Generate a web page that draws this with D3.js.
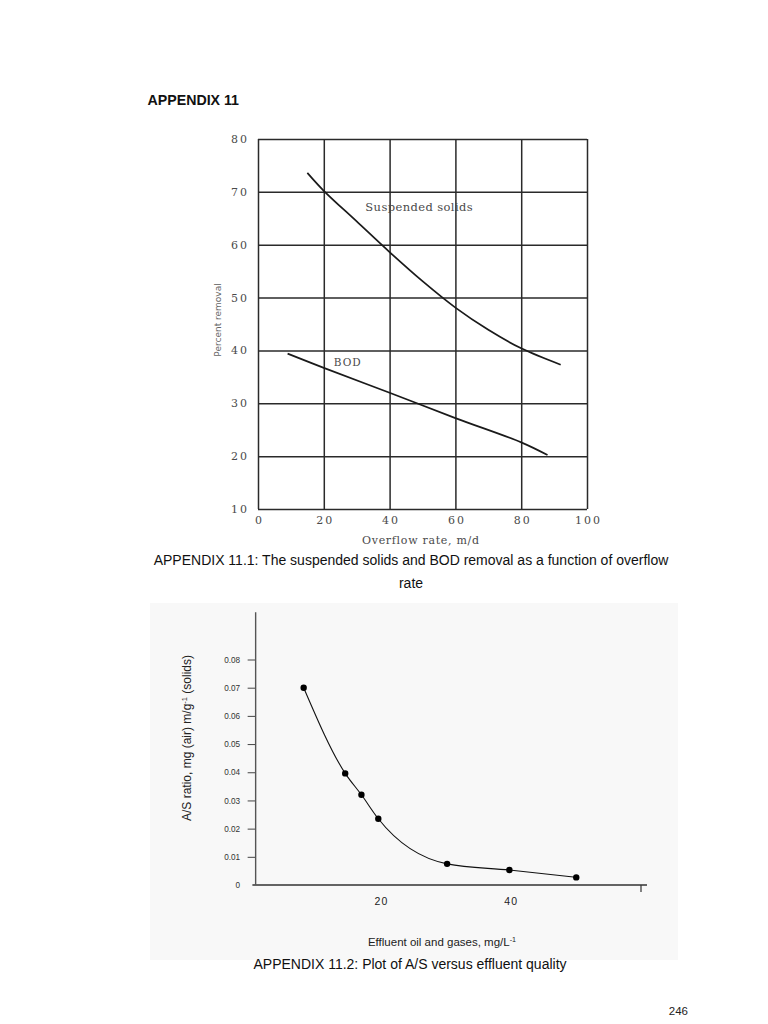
<!DOCTYPE html>
<html>
<head>
<meta charset="utf-8">
<script src="https://cdn.jsdelivr.net/npm/d3@7"></script>
<style>
  html, body { margin: 0; padding: 0; background: #fff; }
  svg { display: block; }
</style>
</head>
<body>
<svg id="page" width="768" height="1024"></svg>
<script>
// ---------- Data: Appendix 11.1 ----------
const overflowTicks = [0, 20, 40, 60, 80, 100];
const removalTicks = [10, 20, 30, 40, 50, 60, 70, 80];
const ssOverflow = [15, 20, 30, 40, 50, 60, 70, 80, 92];
const ssRemoval = [73.6, 70.2, 64.4, 58.6, 53.1, 48.1, 43.9, 40.4, 37.3];
const bodOverflow = [9, 20, 40, 60, 80, 88];
const bodRemoval = [39.4, 36.7, 32.0, 27.2, 22.6, 20.2];

// ---------- Data: Appendix 11.2 ----------
const effluentTicks = [20, 40, 60];
const asTicks = [0, 0.01, 0.02, 0.03, 0.04, 0.05, 0.06, 0.07, 0.08];
const effluentOil = [8.1, 14.5, 17.0, 19.6, 30.2, 39.8, 50.1];
const asRatio = [0.0700, 0.0396, 0.0320, 0.0235, 0.0075, 0.0053, 0.0027];
const effluentAxisExtent = [0.2, 61];   // x-axis line extent (data units)
const asAxisExtent = [0, 0.0968];       // y-axis line extent (data units)
const asAxisCrossAt = 0.7;              // y axis sits at this effluent value

const svg = d3.select("#page");

// ---------- Page text ----------
const sans = "'Liberation Sans', Arial, sans-serif";
svg.append("text").attr("x", 147.5).attr("y", 105)
  .attr("font-family", sans).attr("font-weight", "bold").attr("font-size", 14.2)
  .attr("fill", "#111").text("APPENDIX 11");

// ---------- Chart 1 ----------
const x1 = d3.scaleLinear().domain([0, 100]).range([258, 587]);
const y1 = d3.scaleLinear().domain([10, 80]).range([509, 139]);
const g1 = svg.append("g");
const serif = "'DejaVu Serif', 'Liberation Serif', serif";

const ay1 = g1.append("g").attr("transform", `translate(${x1(0)},0)`)
  .call(d3.axisLeft(y1).tickValues(removalTicks).tickSize(-(x1(100) - x1(0))).tickPadding(9).tickFormat(d3.format("d")));
const ax1 = g1.append("g").attr("transform", `translate(0,${y1(10)})`)
  .call(d3.axisBottom(x1).tickValues(overflowTicks).tickSize(-(y1(10) - y1(80))).tickPadding(7).tickFormat(d3.format("d")));
[ay1, ax1].forEach(a => {
  a.select(".domain").remove();
  a.selectAll(".tick line").attr("stroke", "#2a2a2a").attr("stroke-width", 1.5);
  a.selectAll(".tick text").attr("font-family", serif).attr("font-size", 11)
    .attr("letter-spacing", 2).attr("fill", "#4a4a4a");
});
ax1.selectAll(".tick text").attr("dx", 1);

const line1 = d3.line().x(d => x1(d[0])).y(d => y1(d[1])).curve(d3.curveCatmullRom.alpha(0.5));
g1.append("path").datum(d3.zip(ssOverflow, ssRemoval)).attr("d", line1)
  .attr("fill", "none").attr("stroke", "#1a1a1a").attr("stroke-width", 1.7);
g1.append("path").datum(d3.zip(bodOverflow, bodRemoval)).attr("d", line1)
  .attr("fill", "none").attr("stroke", "#1a1a1a").attr("stroke-width", 1.7);

g1.append("text").attr("x", x1(49)).attr("y", y1(66.3)).attr("text-anchor", "middle")
  .attr("font-family", serif).attr("font-size", 11.5).attr("letter-spacing", 0.4)
  .attr("fill", "#4a4a4a").text("Suspended solids");
g1.append("text").attr("x", x1(27.3)).attr("y", y1(37.1)).attr("text-anchor", "middle")
  .attr("font-family", serif).attr("font-size", 10.5).attr("letter-spacing", 1)
  .attr("fill", "#4a4a4a").text("BOD");
g1.append("text").attr("x", x1(49.5)).attr("y", 544).attr("text-anchor", "middle")
  .attr("font-family", serif).attr("font-size", 11).attr("letter-spacing", 0.7)
  .attr("fill", "#4a4a4a").text("Overflow rate, m/d");
g1.append("text").attr("transform", "translate(221,320) rotate(-90)").attr("text-anchor", "middle")
  .attr("font-family", "'DejaVu Sans', sans-serif").attr("font-size", 9).attr("fill", "#666")
  .text("Percent removal");

svg.append("text").attr("x", 411).attr("y", 564.7).attr("text-anchor", "middle")
  .attr("font-family", sans).attr("font-size", 14).attr("fill", "#111")
  .text("APPENDIX 11.1: The suspended solids and BOD removal as a function of overflow");
svg.append("text").attr("x", 411).attr("y", 588).attr("text-anchor", "middle")
  .attr("font-family", sans).attr("font-size", 14).attr("fill", "#111").text("rate");

// ---------- Chart 2 ----------
svg.append("rect").attr("x", 150).attr("y", 603).attr("width", 528).attr("height", 357)
  .attr("fill", "#f8f8f8");

const x2 = d3.scaleLinear().domain([0, 60]).range([251.1, 640.5]);
const y2 = d3.scaleLinear().domain([0, 0.08]).range([885, 659.5]);
const g2 = svg.append("g");

const ax2 = g2.append("g").attr("transform", `translate(0,${y2(0)})`)
  .call(d3.axisBottom(x2).tickValues(effluentTicks).tickSize(7).tickSizeOuter(0).tickPadding(6)
    .tickFormat(d => d === 60 ? "" : d));
ax2.select(".domain").remove();
ax2.selectAll(".tick line").attr("stroke", d => d === 60 ? "#333" : "none").attr("stroke-width", 1.2);
ax2.selectAll(".tick text").attr("font-family", sans).attr("font-size", 10.5)
  .attr("letter-spacing", 1).attr("fill", "#222");
g2.append("line").attr("x1", x2(effluentAxisExtent[0])).attr("x2", x2(effluentAxisExtent[1]))
  .attr("y1", y2(0)).attr("y2", y2(0)).attr("stroke", "#333").attr("stroke-width", 1.4);

const ay2 = g2.append("g").attr("transform", `translate(${x2(asAxisCrossAt)},0)`)
  .call(d3.axisLeft(y2).tickValues(asTicks).tickSize(8).tickSizeOuter(0).tickPadding(7.5)
    .tickFormat(d => d === 0 ? "0" : d3.format(".2f")(d)));
ay2.select(".domain").remove();
ay2.selectAll(".tick line").attr("stroke", d => d === 0 ? "none" : "#444").attr("stroke-width", 1);
ay2.selectAll(".tick text").attr("font-family", sans).attr("font-size", 8.2)
  .attr("fill", "#333");
g2.append("line").attr("x1", x2(asAxisCrossAt)).attr("x2", x2(asAxisCrossAt))
  .attr("y1", y2(asAxisExtent[0])).attr("y2", y2(asAxisExtent[1]))
  .attr("stroke", "#555").attr("stroke-width", 1.4);

const pts2 = d3.zip(effluentOil, asRatio);
g2.append("path").datum(pts2)
  .attr("d", d3.line().x(d => x2(d[0])).y(d => y2(d[1])).curve(d3.curveMonotoneX))
  .attr("fill", "none").attr("stroke", "#111").attr("stroke-width", 1.1);
g2.selectAll("circle").data(pts2).join("circle")
  .attr("cx", d => x2(d[0])).attr("cy", d => y2(d[1])).attr("r", 3.2).attr("fill", "#000");

const yt = g2.append("text").attr("transform", "translate(191,738) rotate(-90)")
  .attr("text-anchor", "middle").attr("font-family", sans).attr("font-size", 12).attr("fill", "#222");
yt.append("tspan").text("A/S ratio, mg (air) m/g");
yt.append("tspan").attr("dy", -4.5).attr("font-size", 7.5).text("-1");
yt.append("tspan").attr("dy", 4.5).text(" (solids)");

const xt = g2.append("text").attr("x", 442).attr("y", 945.7)
  .attr("text-anchor", "middle").attr("font-family", sans).attr("font-size", 11.5).attr("fill", "#222");
xt.append("tspan").text("Effluent oil and gases, mg/L");
xt.append("tspan").attr("dy", -4).attr("font-size", 7.2).text("-1");

svg.append("text").attr("x", 410).attr("y", 969.3).attr("text-anchor", "middle")
  .attr("font-family", sans).attr("font-size", 14).attr("fill", "#111")
  .text("APPENDIX 11.2: Plot of A/S versus effluent quality");

svg.append("text").attr("x", 688).attr("y", 1014.6).attr("text-anchor", "end")
  .attr("font-family", sans).attr("font-size", 11.5).attr("fill", "#222").text("246");
</script>
</body>
</html>
